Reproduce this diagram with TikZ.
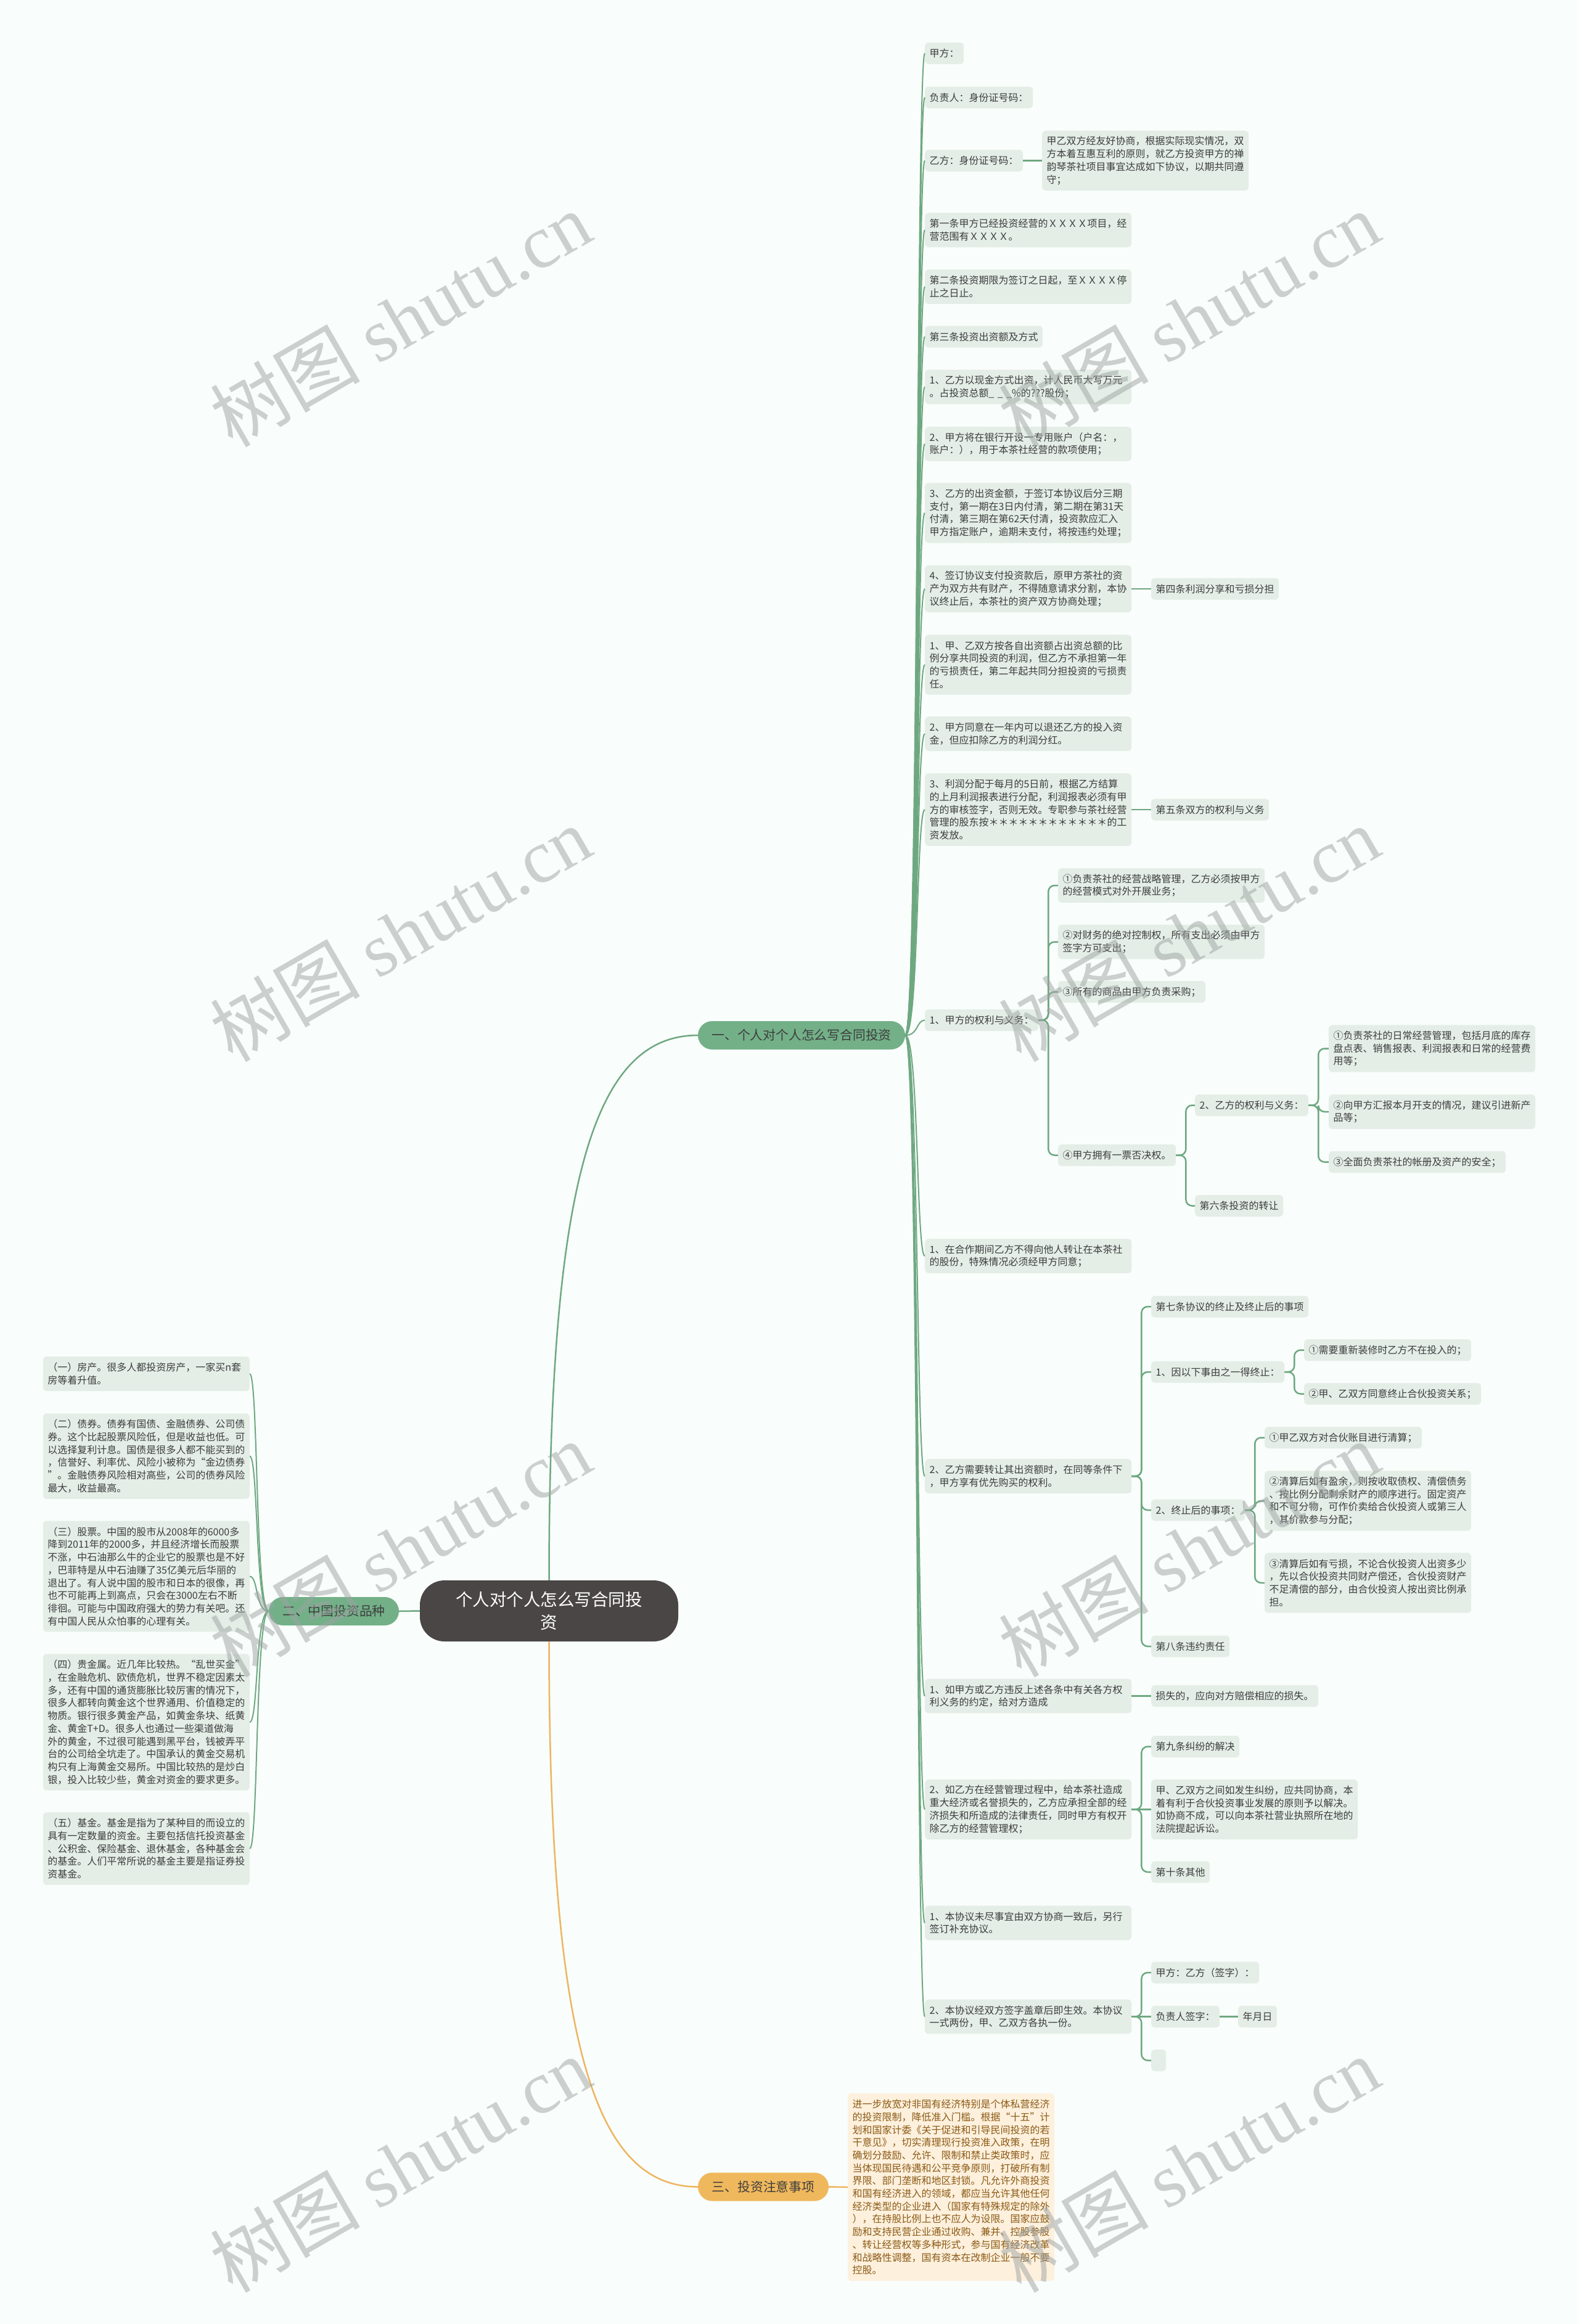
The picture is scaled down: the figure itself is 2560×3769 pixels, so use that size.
\documentclass[tikz,border=0pt]{standalone}
\usepackage{fontspec}
\setmainfont{Noto Sans CJK SC}
\newfontfamily\wmserif{Liberation Serif}
\usetikzlibrary{calc}
\definecolor{bgc}{HTML}{F9FDFB}
\definecolor{boxf}{HTML}{E4EEE7}
\definecolor{lineg}{HTML}{6EA881}
\definecolor{maing}{HTML}{73B088}
\definecolor{txt}{HTML}{3D3D3D}
\definecolor{ctr}{HTML}{4A4646}
\definecolor{orng}{HTML}{F0B85C}
\definecolor{orngline}{HTML}{EDB560}
\definecolor{obox}{HTML}{FDF0DD}
\definecolor{otxt}{HTML}{8B5A14}
\definecolor{wmc}{HTML}{9EA3A3}
\tikzset{
  conn/.style={draw=lineg, line width=2.5pt, rounded corners=10pt},
  fan/.style={draw=lineg, line width=2pt},
  oline/.style={draw=orngline, line width=2.5pt},
  box/.style={fill=boxf, text=txt, rounded corners=6pt, inner xsep=7.5pt, inner ysep=3pt, align=left, minimum height=35pt, font=\fontsize{16pt}{20.7pt}\selectfont},
  w20/.style={text width=320pt},
  nlines/.style={minimum height=14.3pt+20.7pt*#1},
  mainnode/.style={rounded corners=23pt, minimum height=46pt, text=txt, inner sep=0pt, font=\fontsize{20.8pt}{25pt}\selectfont},
  wm/.style={text=wmc, text opacity=0.5, rotate=30, inner sep=0pt, font=\fontsize{122pt}{124pt}\selectfont}
}
\begin{document}
\begin{tikzpicture}[x=1pt,y=-1pt]
\useasboundingbox (0,0) rectangle (2560,3769);
\fill[bgc] (0,0) rectangle (2560,3769);

% main nodes
\node[fill=ctr, text=white, rounded corners=40pt, minimum width=419pt, minimum height=99pt, inner sep=0pt, align=center, font=\fontsize{27.5pt}{37pt}\selectfont] (c0) at (890.5,2612.5) {个人对个人怎么写合同投\\资};
\node[mainnode, fill=maing, minimum width=336pt] (n1) at (1300,1679) {一、个人对个人怎么写合同投资};
\node[mainnode, fill=maing, minimum width=211pt] (n2) at (541.5,2613) {二、中国投资品种};
\node[mainnode, fill=orng, minimum width=212pt] (n3) at (1238,3546.5) {三、投资注意事项};

% branch one
\node[box,anchor=west] (a1) at (1500,86.5) {甲方：};
\node[box,anchor=west] (a2) at (1500,158) {负责人：身份证号码：};
\node[box,anchor=west] (a3) at (1500,260.5) {乙方：身份证号码：};
\node[box,w20,nlines=4,anchor=west] (a3t) at (1690,260.5) {甲乙双方经友好协商，根据实际现实情况，双\\方本着互惠互利的原则，就乙方投资甲方的禅\\韵琴茶社项目事宜达成如下协议，以期共同遵\\守；};
\node[box,w20,nlines=2,anchor=west] (a4) at (1500,373) {第一条甲方已经投资经营的ＸＸＸＸ项目，经\\营范围有ＸＸＸＸ。};
\node[box,w20,nlines=2,anchor=west] (a5) at (1500,465) {第二条投资期限为签订之日起，至ＸＸＸＸ停\\止之日止。};
\node[box,anchor=west] (a6) at (1500,546) {第三条投资出资额及方式};
\node[box,w20,nlines=2,anchor=west] (a7) at (1500,627.5) {1、乙方以现金方式出资，计人民币大写万元\\。占投资总额\_ \_ \_\%的???股份；};
\node[box,w20,nlines=2,anchor=west] (a8) at (1500,720) {2、甲方将在银行开设一专用账户（户名：，\\账户：），用于本茶社经营的款项使用；};
\node[box,w20,nlines=4,anchor=west] (a9) at (1500,832) {3、乙方的出资金额，于签订本协议后分三期\\支付，第一期在3日内付清，第二期在第31天\\付清，第三期在第62天付清，投资款应汇入\\甲方指定账户，逾期未支付，将按违约处理；};
\node[box,w20,nlines=3,anchor=west] (a10) at (1500,955) {4、签订协议支付投资款后，原甲方茶社的资\\产为双方共有财产，不得随意请求分割，本协\\议终止后，本茶社的资产双方协商处理；};
\node[box,anchor=west] (a10t) at (1867,955) {第四条利润分享和亏损分担};
\node[box,w20,nlines=4,anchor=west] (a11) at (1500,1078) {1、甲、乙双方按各自出资额占出资总额的比\\例分享共同投资的利润，但乙方不承担第一年\\的亏损责任，第二年起共同分担投资的亏损责\\任。};
\node[box,w20,nlines=2,anchor=west] (a12) at (1500,1190) {2、甲方同意在一年内可以退还乙方的投入资\\金，但应扣除乙方的利润分红。};
\node[box,w20,nlines=5,anchor=west] (a13) at (1500,1313) {3、利润分配于每月的5日前，根据乙方结算\\的上月利润报表进行分配，利润报表必须有甲\\方的审核签字，否则无效。专职参与茶社经营\\管理的股东按＊＊＊＊＊＊＊＊＊＊＊＊的工\\资发放。};
\node[box,anchor=west] (a13t) at (1867,1313) {第五条双方的权利与义务};
\node[box,anchor=west] (a14) at (1500,1654.5) {1、甲方的权利与义务：};
\node[box,w20,nlines=2,anchor=west] (b1) at (1716,1436) {①负责茶社的经营战略管理，乙方必须按甲方\\的经营模式对外开展业务；};
\node[box,w20,nlines=2,anchor=west] (b2) at (1716,1527.5) {②对财务的绝对控制权，所有支出必须由甲方\\签字方可支出；};
\node[box,anchor=west] (b3) at (1716,1608.5) {③所有的商品由甲方负责采购；};
\node[box,anchor=west] (b4) at (1716,1873.5) {④甲方拥有一票否决权。};
\node[box,anchor=west] (c1) at (1938,1792.5) {2、乙方的权利与义务：};
\node[box,anchor=west] (c2) at (1938,1955.5) {第六条投资的转让};
\node[box,w20,nlines=3,anchor=west] (d1) at (2155,1700.5) {①负责茶社的日常经营管理，包括月底的库存\\盘点表、销售报表、利润报表和日常的经营费\\用等；};
\node[box,w20,nlines=2,anchor=west] (d2) at (2155,1803) {②向甲方汇报本月开支的情况，建议引进新产\\品等；};
\node[box,anchor=west] (d3) at (2155,1884.5) {③全面负责茶社的帐册及资产的安全；};
\node[box,w20,nlines=2,anchor=west] (a15) at (1500,2037) {1、在合作期间乙方不得向他人转让在本茶社\\的股份，特殊情况必须经甲方同意；};
\node[box,w20,nlines=2,anchor=west] (a16) at (1500,2394) {2、乙方需要转让其出资额时，在同等条件下\\，甲方享有优先购买的权利。};
\node[box,anchor=west] (e1) at (1867,2119) {第七条协议的终止及终止后的事项};
\node[box,anchor=west] (e2) at (1867,2225) {1、因以下事由之一得终止：};
\node[box,anchor=west] (f1) at (2115,2189.5) {①需要重新装修时乙方不在投入的；};
\node[box,anchor=west] (f2) at (2115,2260.5) {②甲、乙双方同意终止合伙投资关系；};
\node[box,anchor=west] (e3) at (1867,2449) {2、终止后的事项：};
\node[box,anchor=west] (g1) at (2051,2331.5) {①甲乙双方对合伙账目进行清算；};
\node[box,w20,nlines=4,anchor=west] (g2) at (2051,2434) {②清算后如有盈余，则按收取债权、清偿债务\\、按比例分配剩余财产的顺序进行。固定资产\\和不可分物，可作价卖给合伙投资人或第三人\\，其价款参与分配；};
\node[box,w20,nlines=4,anchor=west] (g3) at (2051,2567) {③清算后如有亏损，不论合伙投资人出资多少\\，先以合伙投资共同财产偿还，合伙投资财产\\不足清偿的部分，由合伙投资人按出资比例承\\担。};
\node[box,anchor=west] (e4) at (1867,2670) {第八条违约责任};
\node[box,w20,nlines=2,anchor=west] (a17) at (1500,2750.5) {1、如甲方或乙方违反上述各条中有关各方权\\利义务的约定，给对方造成};
\node[box,anchor=west] (a17t) at (1867,2750.5) {损失的，应向对方赔偿相应的损失。};
\node[box,w20,nlines=4,anchor=west] (a18) at (1500,2934.5) {2、如乙方在经营管理过程中，给本茶社造成\\重大经济或名誉损失的，乙方应承担全部的经\\济损失和所造成的法律责任，同时甲方有权开\\除乙方的经营管理权；};
\node[box,anchor=west] (h1) at (1867,2832.5) {第九条纠纷的解决};
\node[box,w20,nlines=4,anchor=west] (h2) at (1867,2934.5) {甲、乙双方之间如发生纠纷，应共同协商，本\\着有利于合伙投资事业发展的原则予以解决。\\如协商不成，可以向本茶社营业执照所在地的\\法院提起诉讼。};
\node[box,anchor=west] (h3) at (1867,3036) {第十条其他};
\node[box,w20,nlines=2,anchor=west] (a19) at (1500,3118.5) {1、本协议未尽事宜由双方协商一致后，另行\\签订补充协议。};
\node[box,w20,nlines=2,anchor=west] (a20) at (1500,3270.5) {2、本协议经双方签字盖章后即生效。本协议\\一式两份，甲、乙双方各执一份。};
\node[box,anchor=west] (i1) at (1867,3199) {甲方：乙方（签字）：};
\node[box,anchor=west] (i2) at (1867,3270.5) {负责人签字：};
\node[box,anchor=west] (i2t) at (2008,3270.5) {年月日};
\node[box,anchor=west,minimum width=24pt] (i3) at (1867,3341.5) {};

% branch two
\node[box,w20,nlines=2,anchor=east] (l1) at (405,2228) {（一）房产。很多人都投资房产，一家买n套\\房等着升值。};
\node[box,w20,nlines=6,anchor=east] (l2) at (405,2361.5) {（二）债券。债券有国债、金融债券、公司债\\券。这个比起股票风险低，但是收益也低。可\\以选择复利计息。国债是很多人都不能买到的\\，信誉好、利率优、风险小被称为“金边债券\\”。金融债券风险相对高些，公司的债券风险\\最大，收益最高。};
\node[box,w20,nlines=8,anchor=east] (l3) at (405,2556.5) {（三）股票。中国的股市从2008年的6000多\\降到2011年的2000多，并且经济增长而股票\\不涨，中石油那么牛的企业它的股票也是不好\\，巴菲特是从中石油赚了35亿美元后华丽的\\退出了。有人说中国的股市和日本的很像，再\\也不可能再上到高点，只会在3000左右不断\\徘徊。可能与中国政府强大的势力有关吧。还\\有中国人民从众怕事的心理有关。};
\node[box,w20,nlines=10,anchor=east] (l4) at (405,2793) {（四）贵金属。近几年比较热。“乱世买金”\\，在金融危机、欧债危机，世界不稳定因素太\\多，还有中国的通货膨胀比较厉害的情况下，\\很多人都转向黄金这个世界通用、价值稳定的\\物质。银行很多黄金产品，如黄金条块、纸黄\\金、黄金T+D。很多人也通过一些渠道做海\\外的黄金，不过很可能遇到黑平台，钱被弄平\\台的公司给全坑走了。中国承认的黄金交易机\\构只有上海黄金交易所。中国比较热的是炒白\\银，投入比较少些，黄金对资金的要求更多。};
\node[box,w20,nlines=5,anchor=east] (l5) at (405,2998) {（五）基金。基金是指为了某种目的而设立的\\具有一定数量的资金。主要包括信托投资基金\\、公积金、保险基金、退休基金，各种基金会\\的基金。人们平常所说的基金主要是指证券投\\资基金。};

% branch three
\node[box,w20,nlines=14,anchor=west,fill=obox,text=otxt] (ob) at (1375,3547) {进一步放宽对非国有经济特别是个体私营经济\\的投资限制，降低准入门槛。根据“十五”计\\划和国家计委《关于促进和引导民间投资的若\\干意见》，切实清理现行投资准入政策，在明\\确划分鼓励、允许、限制和禁止类政策时，应\\当体现国民待遇和公平竞争原则，打破所有制\\界限、部门垄断和地区封锁。凡允许外商投资\\和国有经济进入的领域，都应当允许其他任何\\经济类型的企业进入（国家有特殊规定的除外\\），在持股比例上也不应人为设限。国家应鼓\\励和支持民营企业通过收购、兼并、控股参股\\、转让经营权等多种形式，参与国有经济改革\\和战略性调整，国有资本在改制企业一般不要\\控股。};

% connectors from centre
\draw[fan, line width=2.5pt] (c0.north) .. controls ($(c0.north)+(0,-660)$) and ($(n1.west)+(-165,0)$) .. (n1.west);
\draw[oline] (c0.south) .. controls ($(c0.south)+(0,660)$) and ($(n3.west)+(-165,0)$) .. (n3.west);
\draw[fan, line width=2.5pt] (c0.west) -- (n2.east);
\draw[oline] (n3.east) -- (ob.west);

% fans
\foreach \c in {a1,a2,a3,a4,a5,a6,a7,a8,a9,a10,a11,a12,a13,a14,a15,a16,a17,a18,a19,a20}
  \draw[fan] (n1.east) .. controls ($(n1.east)+(22,0)$) and ($(\c.west)+(-14,0)$) .. (\c.west);
\foreach \c in {l1,l2,l3,l4,l5}
  \draw[fan] (n2.west) .. controls ($(n2.west)+(-22,0)$) and ($(\c.east)+(14,0)$) .. (\c.east);

% brackets
\foreach \c in {b1,b2,b3,b4} \draw[conn] (a14.east) -- ++(16,0) |- (\c.west);
\foreach \c in {c1,c2} \draw[conn] (b4.east) -- ++(16,0) |- (\c.west);
\foreach \c in {d1,d2,d3} \draw[conn] (c1.east) -- ++(16,0) |- (\c.west);
\foreach \c in {e1,e2,e3,e4} \draw[conn] (a16.east) -- ++(16,0) |- (\c.west);
\foreach \c in {f1,f2} \draw[conn] (e2.east) -- ++(16,0) |- (\c.west);
\foreach \c in {g1,g2,g3} \draw[conn] (e3.east) -- ++(16,0) |- (\c.west);
\foreach \c in {h1,h3} \draw[conn] (a18.east) -- ++(16,0) |- (\c.west);
\draw[conn] (a18.east) -- (h2.west);
\foreach \c in {i1,i3} \draw[conn] (a20.east) -- ++(16,0) |- (\c.west);
\draw[conn] (a20.east) -- (i2.west);
\draw[conn] (a3.east) -- (a3t.west);
\draw[conn] (a10.east) -- (a10t.west);
\draw[conn] (a13.east) -- (a13t.west);
\draw[conn] (a17.east) -- (a17t.west);
\draw[conn] (i2.east) -- (i2t.west);

% watermarks
\node[wm] (w1) at (649,517) {树图 {\wmserif shutu.cn}};
\node[wm] (w2) at (1928,517) {树图 {\wmserif shutu.cn}};
\node[wm] (w3) at (649,1514) {树图 {\wmserif shutu.cn}};
\node[wm] (w4) at (1928,1514) {树图 {\wmserif shutu.cn}};
\node[wm] (w5) at (649,2512) {树图 {\wmserif shutu.cn}};
\node[wm] (w6) at (1928,2512) {树图 {\wmserif shutu.cn}};
\node[wm] (w7) at (649,3510) {树图 {\wmserif shutu.cn}};
\node[wm] (w8) at (1928,3510) {树图 {\wmserif shutu.cn}};
\end{tikzpicture}
\end{document}
